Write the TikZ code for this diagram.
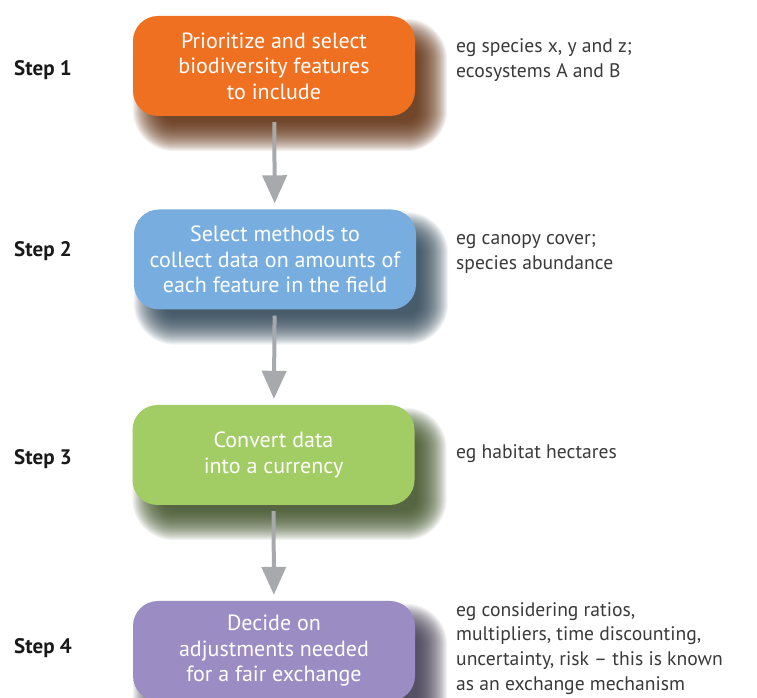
\documentclass[tikz,border=0pt]{standalone}
\usepackage{xcolor}
\usepackage{fontspec}
\setmainfont{PT Sans}
\usetikzlibrary{arrows.meta, positioning, calc, backgrounds}

\definecolor{stepOrange}{HTML}{F07022}
\definecolor{stepBlue}{HTML}{78AEDF}
\definecolor{stepGreen}{HTML}{A2CD64}
\definecolor{stepPurple}{HTML}{9B8DC3}
\definecolor{flowGray}{HTML}{A7A9AC}
\definecolor{noteText}{HTML}{3A3A3A}

% soft shadow under a box: node name, colour
\newcommand{\boxshadow}[2]{%
  \foreach \e in {16,15,...,-14} {
    \pgfmathsetmacro{\rr}{max(3,25+\e)}
    \fill[#2, opacity=0.06, rounded corners=\rr pt]
      ($(#1.south west)+({(16-(\e))*1pt},{(-19-(\e))*1pt})$) rectangle
      ($(#1.north east)+({(16+\e)*1pt},{(-19+\e)*1pt})$);
  }
}

\begin{document}
\begin{tikzpicture}[x=1pt, y=1pt,
    stepbox/.style={rounded corners=25pt, minimum width=282pt, minimum height=100pt,
        text=white, align=center, font=\fontsize{22}{25.5}\selectfont, inner sep=0pt},
    steplabel/.style={font=\bfseries\fontsize{21}{24}\selectfont, text=black!90},
    note/.style={anchor=west, align=left, text=noteText, font=\fontsize{19.6}{24.8}\selectfont, inner sep=0pt},
    flow/.style={draw=flowGray, line width=4pt, -{Triangle[width=24pt,length=28pt]},
        shorten <=6pt, shorten >=6pt}]
    \useasboundingbox (0,0) rectangle (757,698);

    % Boxes
    \node[stepbox, fill=stepOrange] (prioritize) at (274,632) {Prioritize and select\\biodiversity features\\to include};
    \node[stepbox, fill=stepBlue] (methods) at (275,438.5) {Select methods to\\collect data on amounts of\\each feature in the field};
    \node[stepbox, fill=stepGreen] (convert) at (273.5,243) {Convert data\\into a currency};
    \node[stepbox, fill=stepPurple] (adjust) at (274,47) {Decide on\\adjustments needed\\for a fair exchange};

    % Shadows
    \begin{scope}[on background layer]
        \fill[white] (0,0) rectangle (757,698);
        \boxshadow{prioritize}{stepOrange!40!black}
        \boxshadow{methods}{stepBlue!40!black}
        \boxshadow{convert}{stepGreen!40!black}
        \boxshadow{adjust}{stepPurple!40!black}
    \end{scope}

    % Step labels
    \node[steplabel] (s1) at (43,628) {Step 1};
    \node[steplabel] (s2) at (43,447) {Step 2};
    \node[steplabel] (s3) at (43,239) {Step 3};
    \node[steplabel] (s4) at (43,50) {Step 4};

    % Notes
    \node[note] (n1) at (456,638) {eg species x, y and z;\\ecosystems A and B};
    \node[note] (n2) at (456,444) {eg canopy cover;\\species abundance};
    \node[note] (n3) at (456,244) {eg habitat hectares};
    \node[note] (n4) at (456,49.5) {eg considering ratios,\\multipliers, time discounting,\\uncertainty, risk -- this is known\\as an exchange mechanism};

    % Arrows
    \draw[flow] (prioritize) -- (methods);
    \draw[flow] (methods) -- (convert);
    \draw[flow] (convert) -- (adjust);
\end{tikzpicture}
\end{document}
